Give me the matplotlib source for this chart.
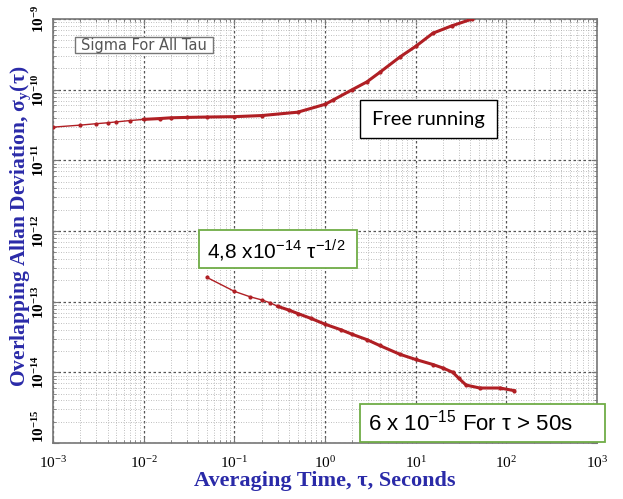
import matplotlib
matplotlib.use("Agg")
import matplotlib.pyplot as plt
from matplotlib.patches import Rectangle
from matplotlib.ticker import LogLocator, FuncFormatter, NullFormatter
import numpy as np

# Free running data
tau_free = [1e-3, 2e-3, 3e-3, 4e-3, 5e-3, 7e-3, 1e-2, 1.5e-2, 2e-2, 3e-2, 5e-2, 0.1, 0.2,
            0.5, 1.0, 1.22, 2.0, 2.9, 4.0, 6.7, 10.0, 15.5, 25.0, 42.0]
sig_free = [2.95e-11, 3.15e-11, 3.3e-11, 3.4e-11, 3.5e-11, 3.65e-11, 3.8e-11, 3.9e-11, 4.0e-11,
            4.05e-11, 4.1e-11, 4.15e-11, 4.3e-11, 4.8e-11, 6.2e-11, 7.1e-11, 1.0e-10, 1.29e-10,
            1.75e-10, 2.9e-10, 4.1e-10, 6.3e-10, 8.0e-10, 1.0e-9]

# Locked data
tau_lock = [0.05, 0.1, 0.15, 0.2, 0.25, 0.3, 0.4, 0.5, 0.7, 1.0, 1.5, 2.0, 2.9, 4.0, 6.7,
            10.0, 15.5, 20.0, 25.7, 30.0, 36.0, 51.0, 85.0, 123.0]
sig_lock = [2.2e-13, 1.4e-13, 1.17e-13, 1.06e-13, 9.6e-14, 8.6e-14, 7.6e-14, 6.8e-14, 5.8e-14,
            4.8e-14, 4.0e-14, 3.45e-14, 2.9e-14, 2.4e-14, 1.8e-14, 1.52e-14, 1.29e-14, 1.15e-14,
            1.0e-14, 8.2e-15, 6.6e-15, 6.0e-15, 6.0e-15, 5.5e-15]

xlim = (1e-3, 1e3)
ylim = (1e-15, 1e-9)

red = '#b01f24'
blue = '#2a2aa8'
green = '#70ad47'

W, H = 623, 499
fig = plt.figure(figsize=(6.23, 4.99), dpi=100)
ax = fig.add_axes([53/W, 1-443/H, (597-53)/W, (443-19)/H])

ax.set_xscale('log')
ax.set_yscale('log')
ax.set_xlim(*xlim)
ax.set_ylim(*ylim)

# thin line with dot markers, then thicker overlay
ax.plot(tau_free, sig_free, color=red, lw=1.0, marker='o', ms=2.0, zorder=3)
ax.plot(tau_free[6:], sig_free[6:], color=red, lw=2.2, zorder=3)
ax.plot(tau_lock, sig_lock, color=red, lw=1.0, marker='o', ms=2.0, zorder=3)
ax.plot(tau_lock[5:], sig_lock[5:], color=red, lw=2.2, zorder=3)

ax.xaxis.set_major_locator(LogLocator(base=10, numticks=20))
ax.yaxis.set_major_locator(LogLocator(base=10, numticks=20))
ax.xaxis.set_minor_locator(LogLocator(base=10, subs=np.arange(2, 10), numticks=20))
ax.yaxis.set_minor_locator(LogLocator(base=10, subs=np.arange(2, 10), numticks=20))
ax.xaxis.set_minor_formatter(NullFormatter())
ax.yaxis.set_minor_formatter(NullFormatter())

def fmt(v, pos):
    e = int(round(np.log10(v)))
    return r'$\mathregular{10^{%d}}$' % e

ax.xaxis.set_major_formatter(FuncFormatter(fmt))
ax.yaxis.set_major_formatter(FuncFormatter(fmt))

ax.grid(which='major', color='#555555', ls=(0, (2, 2)), lw=0.9)
ax.grid(which='minor', color='#aaaaaa', ls=(0, (1, 2)), lw=0.6)
ax.tick_params(which='both', direction='in', top=True, right=True, color='#777777')
ax.tick_params(which='major', length=4)
ax.tick_params(which='minor', length=2)
for s in ax.spines.values():
    s.set_color('#777777')
    s.set_linewidth(1.2)

fig.canvas.draw()
for lab in ax.get_xticklabels():
    lab.set_fontfamily('Liberation Serif')
    lab.set_fontsize(11)
ax.tick_params(axis='x', pad=9)
for lab in ax.get_yticklabels():
    lab.set_fontfamily('Liberation Serif')
    lab.set_fontsize(11)
    lab.set_fontweight('bold')
    lab.set_rotation(90)
    lab.set_va('center')
ax.tick_params(axis='y', pad=4)
for t in ax.yaxis.get_major_ticks():
    if abs(t.get_loc() - ylim[0]) / ylim[0] < 1e-6:
        t.label1.set_va('bottom')

ax.set_xlabel('Averaging Time, τ, Seconds', fontfamily='Liberation Serif', fontsize=16,
              fontweight='bold', color=blue)
ax.xaxis.set_label_coords(0.5, -0.066)
ax.set_ylabel(r'Overlapping Allan Deviation, σ$_\mathregular{y}$(τ)', fontfamily='Liberation Serif',
              fontsize=15.5, fontweight='bold', color=blue)
ax.yaxis.set_label_coords(-0.035, 0.51)

def box(x0, y0, x1, y1, ec, lw, z):
    fig.patches.append(Rectangle((x0/W, 1-y1/H), (x1-x0)/W, (y1-y0)/H, transform=fig.transFigure,
                                 fc='white', ec=ec, lw=lw, zorder=z))

# Sigma For All Tau
box(75, 37, 213, 53, '#777777', 1.0, 5)
fig.text(144/W, 1-45.5/H, 'Sigma For All Tau', fontsize=10.5, fontfamily='DejaVu Sans',
         color='#555555', va='center', ha='center', zorder=6)

box(360, 100, 497, 138, 'black', 1.0, 5)
fig.text(428.5/W, 1-119/H, 'Free running', fontfamily='Lato', fontsize=14.5, color='black',
         ha='center', va='center', zorder=6)

box(199, 230, 357, 268, green, 1.3, 5)
fig.text(207/W, 1-250/H, r'4,8 x10$^\mathregular{-14}$ τ$^\mathregular{-1/2}$',
         fontfamily='Liberation Sans', fontsize=15, color='black', ha='left', va='center', zorder=6)

box(360, 404, 605, 442, green, 1.3, 5)
fig.text(368/W, 1-423/H, r'6 x 10$^\mathregular{-15}$ For τ > 50s',
         fontfamily='Liberation Sans', fontsize=16, color='black', ha='left', va='center', zorder=6)

fig.savefig('out.png', dpi=100)
